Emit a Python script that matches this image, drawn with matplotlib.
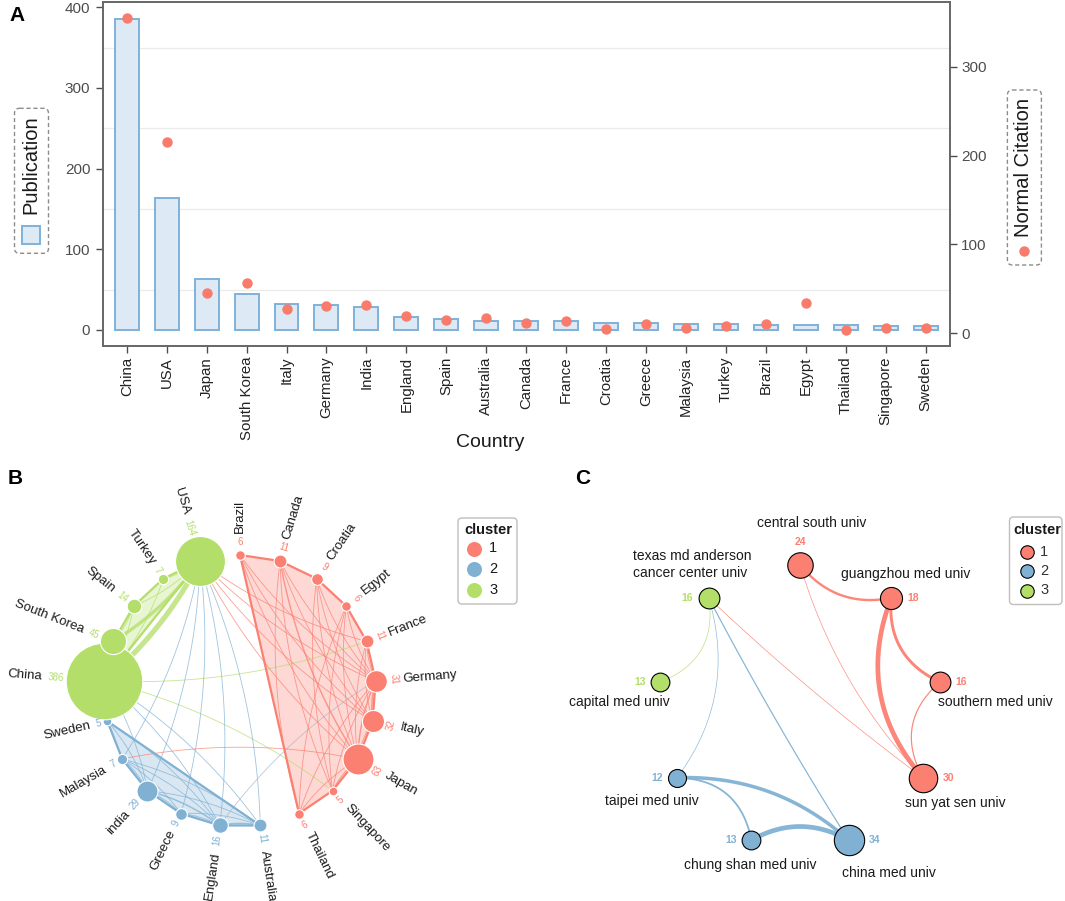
import numpy as np
import matplotlib
matplotlib.use("Agg")
import matplotlib.pyplot as plt
from matplotlib.patches import FancyBboxPatch, Polygon, Rectangle

plt.rcParams['font.family'] = ['Liberation Sans', 'DejaVu Sans']

# ---------------- data ----------------
countries = ["China", "USA", "Japan", "South Korea", "Italy", "Germany", "India",
             "England", "Spain", "Australia", "Canada", "France", "Croatia", "Greece",
             "Malaysia", "Turkey", "Brazil", "Egypt", "Thailand", "Singapore", "Sweden"]
publications = [386, 164, 63, 45, 32, 31, 29, 16, 14, 11, 11, 11, 9, 9, 7, 7, 6, 6, 6, 5, 5]
normal_citation = [355, 215, 45, 57, 27, 31, 32, 20, 15, 17, 12, 14, 5, 11, 6, 8, 11, 34, 4, 6, 6]
country_cluster = [3, 3, 1, 3, 1, 1, 2, 2, 3, 2, 1, 1, 1, 2, 2, 3, 1, 1, 1, 1, 2]
net_labels = ["China", "USA", "Japan", "South Korea", "Italy", "Germany", "india",
              "England", "Spain", "Australia", "Canada", "France", "Croatia", "Greece",
              "Malaysia", "Turkey", "Brazil", "Egypt", "Thailand", "Singapore", "Sweden"]

# (from, to, weight, colour cluster; 0 = mixed)
country_links = [
    ("China", "USA", 8, 3), ("South Korea", "USA", 5, 3), ("China", "South Korea", 2, 3),
    ("China", "Spain", 1, 3), ("China", "Turkey", 1, 3), ("Spain", "USA", 1, 3),
    ("Turkey", "USA", 1, 3), ("South Korea", "Spain", 1, 3), ("China", "France", 1, 3),
    ("China", "Singapore", 1, 3),
    ("USA", "Malaysia", 1, 2), ("USA", "India", 1, 2), ("USA", "Greece", 1, 2),
    ("USA", "England", 1, 2), ("USA", "Australia", 1, 2), ("China", "England", 1, 2),
    ("China", "Australia", 1, 2), ("China", "India", 1, 2), ("Sweden", "England", 1, 2),
    ("Malaysia", "England", 1, 2), ("Malaysia", "Australia", 1, 2), ("Malaysia", "Greece", 1, 2),
    ("India", "England", 2, 2), ("India", "Australia", 1, 2), ("India", "Greece", 1, 2),
    ("Greece", "England", 1, 2), ("Greece", "Australia", 1, 2), ("England", "Australia", 2, 2),
    ("India", "Malaysia", 1, 2), ("Sweden", "India", 1, 2),
    ("Germany", "England", 1, 0),
    ("USA", "France", 1, 1), ("USA", "Germany", 1, 1), ("USA", "Italy", 1, 1),
    ("USA", "Japan", 1, 1), ("Malaysia", "Japan", 1, 1),
    ("Brazil", "Germany", 1, 1), ("Brazil", "Italy", 1, 1), ("Brazil", "Japan", 1, 1),
    ("Canada", "Germany", 1, 1), ("Canada", "Italy", 1, 1), ("Canada", "Japan", 2, 1),
    ("Canada", "Singapore", 1, 1), ("Canada", "Thailand", 1, 1),
    ("Croatia", "Germany", 1, 1), ("Croatia", "Italy", 1, 1), ("Croatia", "Japan", 1, 1),
    ("Croatia", "Singapore", 1, 1),
    ("Egypt", "Germany", 1, 1), ("Egypt", "Japan", 1, 1), ("Egypt", "Thailand", 1, 1),
    ("Egypt", "Singapore", 1, 1),
    ("France", "Germany", 1, 1), ("France", "Italy", 1, 1), ("France", "Japan", 1, 1),
    ("Germany", "Italy", 2, 1), ("Germany", "Japan", 2, 1), ("Italy", "Japan", 1, 1),
    ("Germany", "Singapore", 1, 1), ("Germany", "Thailand", 1, 1),
    ("Japan", "Singapore", 1, 1), ("Japan", "Thailand", 1, 1),
]

inst_names = ["central south univ", "guangzhou med univ", "southern med univ",
              "sun yat sen univ", "china med univ", "chung shan med univ",
              "taipei med univ", "capital med univ", "texas md anderson\ncancer center univ"]
inst_docs = [24, 18, 16, 30, 34, 13, 12, 13, 16]
inst_cluster = [1, 1, 1, 1, 2, 2, 2, 3, 3]
inst_links = [
    ("central south univ", "guangzhou med univ", 4, 1),
    ("guangzhou med univ", "sun yat sen univ", 8, 1),
    ("guangzhou med univ", "southern med univ", 5, 1),
    ("southern med univ", "sun yat sen univ", 2, 1),
    ("central south univ", "sun yat sen univ", 1, 1),
    ("texas md anderson\ncancer center univ", "sun yat sen univ", 1, 1),
    ("texas md anderson\ncancer center univ", "capital med univ", 1, 3),
    ("texas md anderson\ncancer center univ", "taipei med univ", 1, 2),
    ("texas md anderson\ncancer center univ", "china med univ", 2, 2),
    ("taipei med univ", "china med univ", 6, 2),
    ("taipei med univ", "chung shan med univ", 3, 2),
    ("chung shan med univ", "china med univ", 8, 2),
]

# ---------------- style ----------------
W, H = 1065, 901
CL = {1: "#FB8072", 2: "#80B1D3", 3: "#B3DE69", 0: "#A9B5CB"}
BAR_FILL = "#DDE9F4"
BAR_EDGE = "#7EB1DA"
DOT = "#F87B6B"
TXT = "#1A1A1A"

fig = plt.figure(figsize=(W / 100, H / 100), dpi=100)


def px_rect(x0, y0, x1, y1):
    return [x0 / W, 1 - y1 / H, (x1 - x0) / W, (y1 - y0) / H]


# ---------------- panel A ----------------
axA = fig.add_axes(px_rect(102.8, 2, 949.5, 345.7))
xs = np.arange(len(countries))
for v in [50, 150, 250, 350]:
    axA.axhline(v, color="#EBEBEB", lw=0.9, zorder=0)
axA.bar(xs, publications, width=0.6, color=BAR_FILL, edgecolor=BAR_EDGE, linewidth=1.4, zorder=2)
axA.set_xlim(-0.6, len(countries) - 0.4)
axA.set_ylim(-19.5, 406.6)
axA.set_yticks([0, 100, 200, 300, 400])
axA.set_xticks(xs)
axA.set_xticklabels(countries, rotation=90, fontsize=10.8, color="#222222")
axA.tick_params(axis="y", length=5, width=1, color="#4D4D4D", labelsize=11,
                labelcolor="#4D4D4D", pad=4)
axA.tick_params(axis="x", length=5, width=1, color="#4D4D4D", pad=3)

axA2 = axA.twinx()
axA2.scatter(xs, normal_citation, s=56, color=DOT, zorder=3, linewidths=0)
axA2.set_ylim(-13.9, 372.7)
axA2.set_yticks([0, 100, 200, 300])
axA2.tick_params(axis="y", length=5, width=1, color="#4D4D4D", labelsize=11,
                 labelcolor="#4D4D4D", pad=3.5)
for a in (axA, axA2):
    for s in a.spines.values():
        s.set_color("#666666")
        s.set_linewidth(1.2)

# ---------------- overlay (pixel coordinates) ----------------
ov = fig.add_axes([0, 0, 1, 1])
ov.set_xlim(0, W)
ov.set_ylim(H, 0)
ov.axis("off")
ov.patch.set_alpha(0)

ov.text(490, 447, "Country", ha="center", va="baseline", fontsize=14, color=TXT)
for lab, (lx, ly) in {"A": (16.6, 15.6), "B": (15.6, 478.7), "C": (583, 478.4)}.items():
    ov.text(lx, ly, lab, ha="center", va="center", fontsize=15, fontweight="bold", color="black")

# legends of panel A
ov.add_patch(FancyBboxPatch((14.5, 108.3), 34, 145, boxstyle="round,pad=0,rounding_size=5",
                            fill=False, ec="#8C8C8C", lw=1, ls=(0, (3, 2))))
ov.text(30.5, 164.2, "Publication", rotation=90, ha="center", va="center", fontsize=14.5, color=TXT)
ov.add_patch(Rectangle((22, 225.7), 18, 17.8, fc=BAR_FILL, ec=BAR_EDGE, lw=1.4))

ov.add_patch(FancyBboxPatch((1007.4, 90), 34, 175, boxstyle="round,pad=0,rounding_size=5",
                            fill=False, ec="#8C8C8C", lw=1, ls=(0, (3, 2))))
ov.text(1023.5, 167.5, "Normal Citation", rotation=90, ha="center", va="center", fontsize=14.5, color=TXT)
ov.scatter([1023.5], [250.7], s=56, color=DOT, linewidths=0)


def arc_pts(p1, p2, rad, npts=60):
    p1 = np.asarray(p1, float)
    p2 = np.asarray(p2, float)
    d = p2 - p1
    ctrl = (p1 + p2) / 2 + rad * np.array([-d[1], d[0]])
    t = np.linspace(0, 1, npts)[:, None]
    return (1 - t) ** 2 * p1 + 2 * (1 - t) * t * ctrl + t ** 2 * p2


def radial_label(x, y, th_deg, dist, s, radial=True, **kw):
    th = np.deg2rad(th_deg)
    px, py = x + np.cos(th) * dist, y - np.sin(th) * dist
    if radial:
        if np.cos(th) >= -1e-9:
            rot, ha = th_deg, "left"
        else:
            rot, ha = th_deg + 180, "right"
        ov.text(px, py, s, rotation=rot, ha=ha, va="center", rotation_mode="anchor", **kw)
    else:
        rot = th_deg - 90
        while rot > 90:
            rot -= 180
        while rot <= -90:
            rot += 180
        ov.text(px, py, s, rotation=rot, ha="center", va="center", rotation_mode="anchor", **kw)


# ---------------- panel B ----------------
cxB, cyB, RB = 240, 691, 136
n = len(countries)
orderB = sorted(range(n), key=lambda k: (country_cluster[k], net_labels[k].lower()))
posB, angB = {}, {}
for p, k in enumerate(orderB):
    th = 90 - p * 360 / n
    angB[countries[k]] = th
    posB[countries[k]] = (cxB + RB * np.cos(np.deg2rad(th)), cyB - RB * np.sin(np.deg2rad(th)))

# hulls
for c in (1, 2, 3):
    pts = [posB[countries[k]] for k in orderB if country_cluster[k] == c]
    ov.add_patch(Polygon(pts, closed=True, fc=CL[c], alpha=0.3, ec="none", zorder=1))
    ov.add_patch(Polygon(pts, closed=True, fill=False, ec=CL[c], lw=1.6, zorder=2.5,
                         joinstyle="round"))

# edges
for a, b, w, c in country_links:
    p1, p2 = np.array(posB[a]), np.array(posB[b])
    d = p2 - p1
    mid = (p1 + p2) / 2
    perp = np.array([-d[1], d[0]])
    rad = 0.1 if np.dot(perp, np.array([cxB, cyB]) - mid) > 0 else -0.1
    pts = arc_pts(p1, p2, rad)
    ov.plot(pts[:, 0], pts[:, 1], color=CL[c], lw=0.6 + 0.45 * (w - 1), alpha=0.75,
            solid_capstyle="round", zorder=2)

# nodes
for k in orderB:
    name = countries[k]
    x, y = posB[name]
    r = 1.95 * np.sqrt(publications[k])
    ov.scatter([x], [y], s=(1.44 * r) ** 2, color=CL[country_cluster[k]], edgecolors="white",
               linewidths=0.8, zorder=4)
    th = angB[name]
    num = str(publications[k])
    if country_cluster[k] == 1:
        radial_label(x, y, th, r + 8, num, radial=False, fontsize=7, color=CL[1], zorder=5)
        name_d = r + 17
    else:
        radial_label(x, y, th, r + 2, num, radial=True, fontsize=7,
                     color=CL[country_cluster[k]], zorder=5)
        name_d = r + 2 + len(num) * 5.4 + 6
    radial_label(x, y, th, name_d, net_labels[k], radial=True, fontsize=9.5, color=TXT, zorder=5)

# legend B
ov.add_patch(FancyBboxPatch((458, 518), 59, 86, boxstyle="round,pad=0,rounding_size=4",
                            fc="white", ec="#BFBFBF", lw=1, zorder=3))
ov.text(464, 529.5, "cluster", ha="left", va="center", fontsize=10.5, fontweight="bold",
        color=TXT, zorder=6)
for i, c in enumerate((1, 2, 3)):
    yy = 548.5 + i * 20.5
    ov.scatter([474.3], [yy], s=117, color=CL[c], linewidths=0, zorder=6)
    ov.text(489, yy, str(c), ha="left", va="center", fontsize=10.5, color=TXT, zorder=6)

# ---------------- panel C ----------------
cxC, cyC, RC = 800, 706.7, 142
m = len(inst_names)
orderC = sorted(range(m), key=lambda k: (inst_cluster[k], inst_names[k]))
posC, radC = {}, {}
for p, k in enumerate(orderC):
    th = np.deg2rad(90 - p * 360 / m)
    posC[inst_names[k]] = (cxC + RC * np.cos(th), cyC - RC * np.sin(th))
    radC[inst_names[k]] = 2.6 * np.sqrt(inst_docs[k])

edge_bend = {
    ("central south univ", "guangzhou med univ"): 0.3,
    ("guangzhou med univ", "sun yat sen univ"): 0.3,
    ("guangzhou med univ", "southern med univ"): 0.35,
    ("southern med univ", "sun yat sen univ"): 0.4,
    ("central south univ", "sun yat sen univ"): 0.12,
    ("texas md anderson\ncancer center univ", "sun yat sen univ"): 0.03,
    ("texas md anderson\ncancer center univ", "capital med univ"): -0.4,
    ("texas md anderson\ncancer center univ", "taipei med univ"): -0.25,
    ("texas md anderson\ncancer center univ", "china med univ"): 0.02,
    ("taipei med univ", "china med univ"): -0.2,
    ("taipei med univ", "chung shan med univ"): -0.4,
    ("chung shan med univ", "china med univ"): -0.28,
}
for a, b, w, c in inst_links:
    pts = arc_pts(posC[a], posC[b], edge_bend[(a, b)])
    ov.plot(pts[:, 0], pts[:, 1], color=CL[c], lw=0.45 + 0.42 * (w - 1), alpha=0.95,
            solid_capstyle="round", zorder=2)

name_offset = {
    "central south univ": (11.4, -41.3),
    "guangzhou med univ": (14.1, -24.4),
    "southern med univ": (55.9, 20.4),
    "sun yat sen univ": (32, 25.7),
    "china med univ": (40.7, 32.7),
    "chung shan med univ": (-1, 25.3),
    "taipei med univ": (-25.5, 23.3),
    "capital med univ": (-40.4, 20.4),
    "texas md anderson\ncancer center univ": (-16.9, -33.4),
}
for k in orderC:
    nm = inst_names[k]
    x, y = posC[nm]
    r = radC[nm]
    col = CL[inst_cluster[k]]
    ov.scatter([x], [y], s=(1.44 * r) ** 2, color=col, edgecolors="black", linewidths=0.8, zorder=4)
    if abs(x - cxC) < 1:
        ov.text(x, y - r - 10, str(inst_docs[k]), ha="center", va="center", fontsize=7.5,
                fontweight="bold", color=col, zorder=5)
    else:
        sgn = 1 if x > cxC else -1
        ov.text(x + sgn * (r + 11), y, str(inst_docs[k]), ha="center", va="center", fontsize=7.5,
                fontweight="bold", color=col, zorder=5)
    dx, dy = name_offset[nm]
    ov.text(x + dx, y + dy, nm, ha="center", va="center", fontsize=10, color=TXT,
            multialignment="left", linespacing=1.2, zorder=5)

# legend C
ov.add_patch(FancyBboxPatch((1009.5, 517), 52.5, 87.5, boxstyle="round,pad=0,rounding_size=4",
                            fc="white", ec="#BFBFBF", lw=1, zorder=3))
ov.text(1013, 529.6, "cluster", ha="left", va="center", fontsize=10.5, fontweight="bold",
        color=TXT, zorder=6)
for i, c in enumerate((1, 2, 3)):
    yy = 551.5 + i * 19.5
    ov.scatter([1027.4], [yy], s=94, color=CL[c], edgecolors="black", linewidths=0.8, zorder=6)
    ov.text(1040, yy, str(c), ha="left", va="center", fontsize=10.5, color="#333333", zorder=6)

fig.savefig("out.png", dpi=100)
